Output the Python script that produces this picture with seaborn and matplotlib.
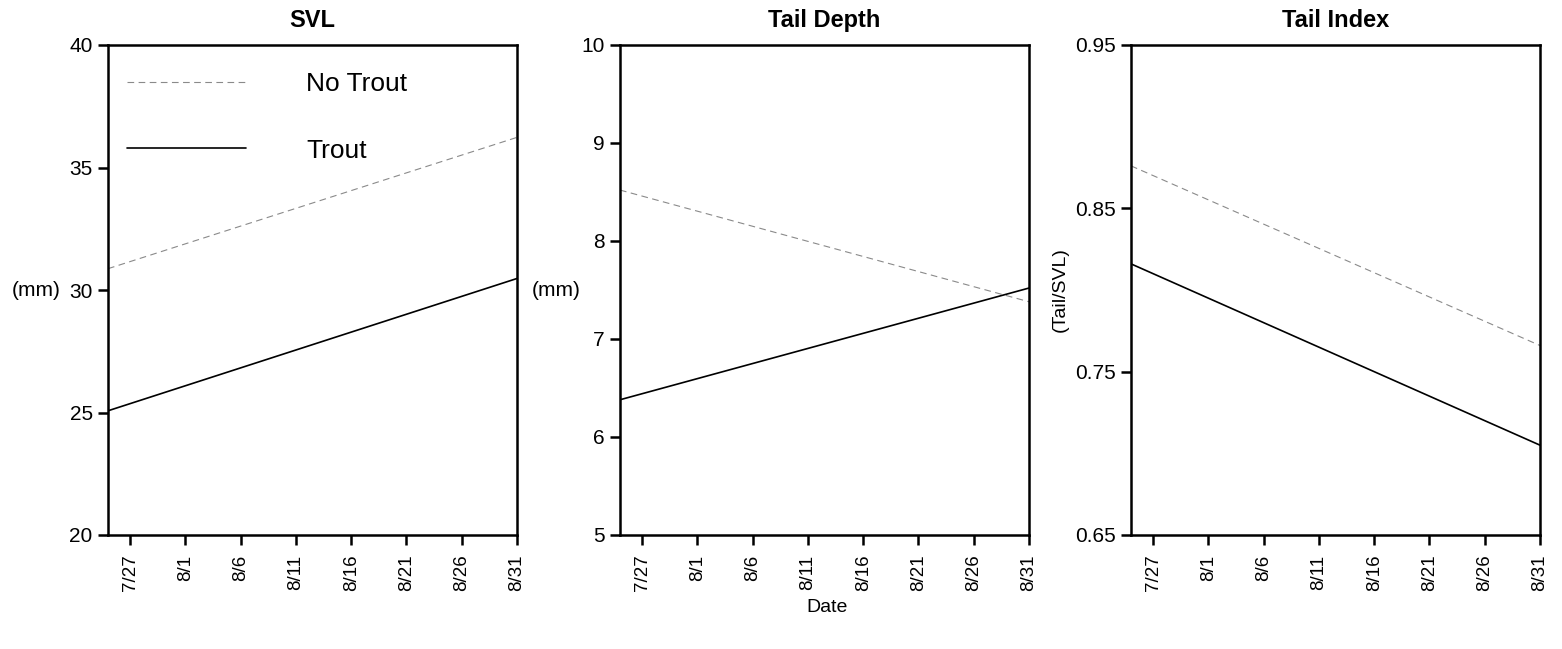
import matplotlib
matplotlib.use('Agg')
import matplotlib.pyplot as plt
import pandas as pd
import seaborn as sns

# fitted endpoints (first and last survey date)
dates = ['2010-07-25', '2010-08-31']
groups = ['No Trout', 'Trout']

svl_no_trout = [30.87, 36.23]
svl_trout = [25.07, 30.47]
depth_no_trout = [8.52, 7.38]
depth_trout = [6.38, 7.52]
index_no_trout = [0.876, 0.766]
index_trout = [0.816, 0.705]

tick_dates = ['2010-07-27', '2010-08-01', '2010-08-06', '2010-08-11',
              '2010-08-16', '2010-08-21', '2010-08-26', '2010-08-31']
tick_labels = ['7/27', '8/1', '8/6', '8/11', '8/16', '8/21', '8/26', '8/31']

titles = ['SVL', 'Tail Depth', 'Tail Index']
ylabels = ['(mm)', '(mm)', '(Tail/SVL)']
yticks = [[20, 25, 30, 35, 40], [5, 6, 7, 8, 9, 10], [0.65, 0.75, 0.85, 0.95]]
yticklabels = [['20', '25', '30', '35', '40'], ['5', '6', '7', '8', '9', '10'],
               ['0.65', '0.75', '0.85', '0.95']]


def make_frame(no_trout, trout):
    return pd.DataFrame({
        'Date': pd.to_datetime(dates * 2),
        'value': no_trout + trout,
        'group': [groups[0]] * 2 + [groups[1]] * 2,
    })


frames = [make_frame(svl_no_trout, svl_trout),
          make_frame(depth_no_trout, depth_trout),
          make_frame(index_no_trout, index_trout)]

sns.set_style('ticks')
plt.rcParams['font.family'] = ['Liberation Sans', 'DejaVu Sans']
plt.rcParams['text.color'] = 'black'
plt.rcParams['axes.labelcolor'] = 'black'
plt.rcParams['xtick.color'] = 'black'
plt.rcParams['ytick.color'] = 'black'

fig = plt.figure(figsize=(15.62, 6.49), dpi=100)
lefts = [108 / 1562, 620 / 1562, 1131 / 1562]
width = 409 / 1562
bottom = 1 - 535 / 649
height = 490 / 649
label_x = [-0.175, -0.157, -0.174]

palette = {'No Trout': '#8a8a8a', 'Trout': 'black'}
dashes = {'No Trout': (6, 4), 'Trout': ''}

for i, df in enumerate(frames):
    ax = fig.add_axes([lefts[i], bottom, width, height])
    sns.lineplot(data=df, x='Date', y='value', hue='group', style='group',
                 hue_order=groups, style_order=groups, palette=palette,
                 dashes=dashes, ax=ax, legend=(i == 0))
    for line in ax.get_lines():
        if line.get_color() == '#8a8a8a':
            line.set_linewidth(0.8)
        else:
            line.set_linewidth(1.2)

    ax.set_xlim(pd.Timestamp(dates[0]), pd.Timestamp(dates[1]))
    ax.set_xticks(pd.to_datetime(tick_dates))
    ax.set_xticklabels(tick_labels, rotation=90, fontsize=13.5)
    ax.set_ylim(yticks[i][0], yticks[i][-1])
    ax.set_yticks(yticks[i])
    ax.set_yticklabels(yticklabels[i], fontsize=15)
    ax.tick_params(axis='both', direction='out', length=7, width=1.8,
                   color='black', labelcolor='black')
    ax.tick_params(axis='x', pad=7)
    ax.tick_params(axis='y', pad=4)
    for sp in ax.spines.values():
        sp.set_visible(True)
        sp.set_linewidth(1.8)
        sp.set_color('black')

    ax.set_title(titles[i], fontsize=17, fontweight='bold', pad=13,
                 color='black')
    ax.set_xlabel('')
    if i < 2:
        ax.set_ylabel(ylabels[i], rotation=0, fontsize=15,
                      ha='center', va='center')
    else:
        ax.set_ylabel(ylabels[i], rotation=90, fontsize=14,
                      ha='center', va='center')
    ax.yaxis.set_label_coords(label_x[i], 0.5)

    if i == 0:
        leg = ax.get_legend()
        handles = leg.legend_handles
        labels = [t.get_text() for t in leg.get_texts()]
        for h in handles:
            if h.get_color() == '#8a8a8a':
                h.set_linewidth(0.8)
            else:
                h.set_linewidth(1.2)
        ax.legend(handles, labels, loc='upper left',
                  bbox_to_anchor=(0.046, 0.945), frameon=False,
                  fontsize=19, handlelength=4.5, handletextpad=2.3,
                  labelspacing=1.62, borderpad=0, borderaxespad=0,
                  labelcolor='black')

fig.text(827 / 1562, 1 - 608 / 649, 'Date', ha='center', va='center',
         fontsize=14, color='black')

plt.savefig('out.png', dpi=100)
